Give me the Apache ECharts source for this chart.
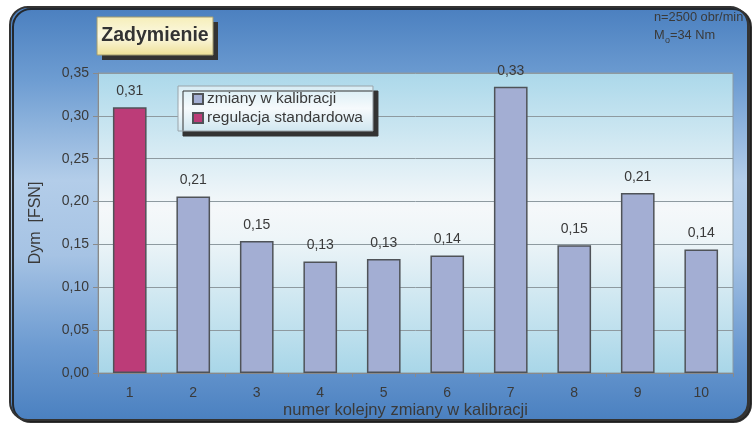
<!DOCTYPE html>
<html>
<head>
<meta charset="utf-8">
<script src="https://cdn.jsdelivr.net/npm/echarts@6/dist/echarts.min.js"></script>
<style>
  html, body { margin: 0; padding: 0; background: #ffffff; }
  #chart { width: 754px; height: 424px; }
</style>
</head>
<body>
<div id="chart"></div>
<script>
// Smoke opacity per calibration change
const categories = ['1', '2', '3', '4', '5', '6', '7', '8', '9', '10'];
const calibrationValues = [null, 0.206, 0.154, 0.130, 0.133, 0.137, 0.334, 0.149, 0.210, 0.144];
const standardValues = [0.310, null, null, null, null, null, null, null, null, null];
const yTicks = { min: 0, max: 0.35, interval: 0.05 };

const FONT = "'Liberation Sans', Arial, sans-serif";
const TEXT = '#3a3a3a';

const chart = echarts.init(document.getElementById('chart'), null, { renderer: 'canvas' });

const fmt = v => v.toFixed(2).replace('.', ',');

const option = {
  animation: false,
  textStyle: { fontFamily: FONT },
  graphic: [
    {
      // outer rounded panel
      type: 'rect',
      z: -10,
      shape: { x: 10, y: 7, width: 738, height: 413, r: 18 },
      style: {
        fill: new echarts.graphic.LinearGradient(0, 0, 0, 1, [
          { offset: 0, color: '#4a7fbf' },
          { offset: 0.18, color: '#6e9dd2' },
          { offset: 0.42, color: '#b3cde9' },
          { offset: 0.6, color: '#a6c3e4' },
          { offset: 0.82, color: '#6d9bd1' },
          { offset: 1, color: '#4a80c0' }
        ]),
        stroke: '#333333',
        lineWidth: 2,
        shadowColor: 'rgba(30,30,30,0.9)',
        shadowOffsetX: 3,
        shadowOffsetY: 2,
        shadowBlur: 0
      }
    },
    {
      // title plate shadow
      type: 'rect',
      z: 20,
      shape: { x: 102, y: 22, width: 116, height: 38 },
      style: { fill: '#333333' }
    },
    {
      // title plate
      type: 'rect',
      z: 21,
      shape: { x: 97, y: 17, width: 116, height: 38 },
      style: {
        fill: new echarts.graphic.LinearGradient(0, 0, 0, 1, [
          { offset: 0, color: '#f6eeb8' },
          { offset: 0.5, color: '#fbf8e2' },
          { offset: 1, color: '#eee096' }
        ]),
        stroke: '#a09a70',
        lineWidth: 1
      }
    },
    {
      type: 'text',
      z: 22,
      x: 155,
      y: 36,
      style: {
        text: 'Zadymienie',
        font: 'bold 19.5px ' + FONT,
        fill: '#333333',
        align: 'center',
        verticalAlign: 'middle'
      }
    },
    {
      type: 'text',
      z: 10,
      left: 654,
      top: 11,
      style: { text: 'n=2500 obr/min', font: '12.8px ' + FONT, fill: TEXT }
    },
    {
      type: 'text',
      z: 10,
      left: 654,
      top: 29,
      style: { text: 'M', font: '12.8px ' + FONT, fill: TEXT }
    },
    {
      type: 'text',
      z: 10,
      left: 665,
      top: 36,
      style: { text: 'o', font: '9px ' + FONT, fill: TEXT }
    },
    {
      type: 'text',
      z: 10,
      left: 670,
      top: 29,
      style: { text: '=34 Nm', font: '12.8px ' + FONT, fill: TEXT }
    }
  ],
  legend: {
    orient: 'vertical',
    left: 178,
    top: 86,
    padding: [5, 10, 5, 14],
    itemGap: 3,
    itemWidth: 10,
    itemHeight: 10,
    icon: 'rect',
    data: ['zmiany w kalibracji', 'regulacja standardowa'],
    backgroundColor: new echarts.graphic.LinearGradient(0, 0, 0, 1, [
      { offset: 0, color: '#d6ecf4' },
      { offset: 0.5, color: '#f6fafc' },
      { offset: 1, color: '#cfe6f0' }
    ]),
    borderColor: '#9aa4aa',
    borderWidth: 1,
    shadowColor: '#333333',
    shadowOffsetX: 5,
    shadowOffsetY: 5,
    shadowBlur: 0,
    textStyle: { fontFamily: FONT, fontSize: 15.5, color: TEXT, padding: [0, 0, 0, -1] }
  },
  grid: {
    left: 98,
    right: 21,
    top: 73,
    bottom: 51,
    outerBoundsMode: 'none',
    containLabel: false,
    show: true,
    borderColor: '#8a9aa4',
    borderWidth: 1,
    backgroundColor: new echarts.graphic.LinearGradient(0, 0, 0, 1, [
      { offset: 0, color: '#abd8ea' },
      { offset: 0.45, color: '#f5f8fa' },
      { offset: 0.55, color: '#eef5f8' },
      { offset: 1, color: '#a8d6e8' }
    ])
  },
  xAxis: {
    type: 'category',
    data: categories,
    name: 'numer kolejny zmiany w kalibracji',
    nameLocation: 'middle',
    nameGap: 29,
    nameMoveOverlap: false,
    nameTextStyle: { fontFamily: FONT, fontSize: 16.5, color: TEXT, padding: [0, 20, 0, 0] },
    axisLine: { lineStyle: { color: '#8a8a8a', width: 1 } },
    axisTick: { show: true, length: 4, lineStyle: { color: '#8a8a8a' } },
    axisLabel: { fontFamily: FONT, fontSize: 14, color: TEXT, margin: 13 }
  },
  yAxis: {
    type: 'value',
    min: yTicks.min,
    max: yTicks.max,
    interval: yTicks.interval,
    name: 'Dym  [FSN]',
    nameLocation: 'middle',
    nameGap: 54,
    nameMoveOverlap: false,
    nameTextStyle: { fontFamily: FONT, fontSize: 16, color: TEXT },
    axisLine: { show: true, lineStyle: { color: '#8a8a8a' } },
    axisTick: { show: true, length: 5, lineStyle: { color: '#8a8a8a' } },
    axisLabel: { fontFamily: FONT, fontSize: 14, color: TEXT, margin: 9, formatter: v => fmt(v) },
    splitLine: { lineStyle: { color: '#8e9aa0', width: 1 } }
  },
  series: [
    {
      name: 'zmiany w kalibracji',
      type: 'bar',
      stack: 'all',
      barWidth: '53%',
      data: calibrationValues,
      itemStyle: { color: '#a3aed3', borderColor: '#4f5358', borderWidth: 1.5 },
      label: {
        show: true,
        position: 'top',
        distance: 9,
        fontFamily: FONT,
        fontSize: 14,
        color: TEXT,
        formatter: p => fmt(p.value)
      }
    },
    {
      name: 'regulacja standardowa',
      type: 'bar',
      stack: 'all',
      barWidth: '53%',
      data: standardValues,
      itemStyle: { color: '#bc3c78', borderColor: '#4f5358', borderWidth: 1.5 },
      label: {
        show: true,
        position: 'top',
        distance: 9,
        fontFamily: FONT,
        fontSize: 14,
        color: TEXT,
        formatter: p => fmt(p.value)
      }
    }
  ]
};

chart.setOption(option);
</script>
</body>
</html>
